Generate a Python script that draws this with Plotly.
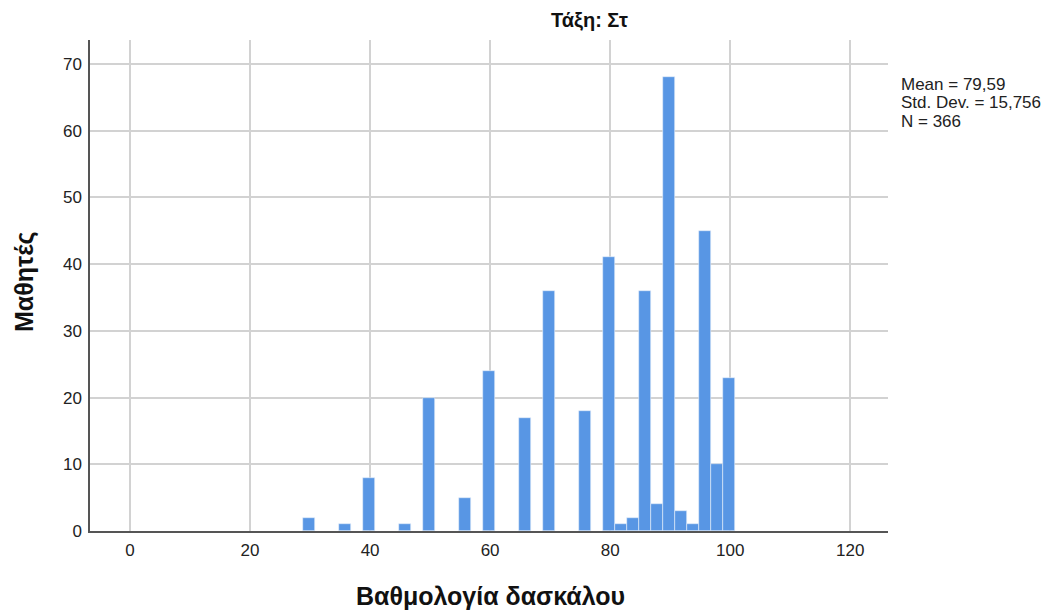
import plotly.graph_objects as go

# bin centres (score) and counts
scores = [30, 36, 40, 46, 50, 56, 60, 66, 70, 76,
          80, 82, 84, 86, 88, 90, 92, 94, 96, 98, 100]
counts = [2, 1, 8, 1, 20, 5, 24, 17, 36, 18,
          41, 1, 2, 36, 4, 68, 3, 1, 45, 10, 23]

x_ticks = [0, 20, 40, 60, 80, 100, 120]
y_ticks = [0, 10, 20, 30, 40, 50, 60, 70]

stats_lines = ["Mean = 79,59", "Std. Dev. = 15,756", "N = 366"]

# the page body adds an 8px offset, so the figure is drawn 8px smaller
W, H = 1045, 604
L, R, T, B = 82, 165, 32, 81
pw, ph = W - L - R, H - T - B


def px_x(x):
    return (x - L) / pw


def px_y(y):
    return (H - B - y) / ph


fig = go.Figure()
fig.add_trace(go.Bar(
    x=[s - 0.15 for s in scores],
    y=counts,
    width=1.95,
    marker=dict(color="#5896e4", line=dict(color="#e8f0fb", width=0.6)),
    showlegend=False,
))

annotations = [
    dict(text="<b>Τάξη: Στ</b>", x=px_x(581), y=px_y(12), xanchor="center", yanchor="middle",
         font=dict(size=20, color="#111111")),
    dict(text="<b>Βαθμολογία δασκάλου</b>", x=px_x(482), y=px_y(588), xanchor="center", yanchor="middle",
         font=dict(size=25, color="#111111")),
    dict(text="<b>Μαθητές</b>", x=px_x(16), y=px_y(274), xanchor="center", yanchor="middle",
         textangle=-90, font=dict(size=25, color="#111111")),
]
for i, line in enumerate(stats_lines):
    annotations.append(dict(
        text=line, x=px_x(891), y=px_y(76 + 18.7 * i), xanchor="left", yanchor="middle",
        font=dict(size=17, color="#222222"),
    ))
for a in annotations:
    a.update(xref="paper", yref="paper", showarrow=False)

fig.update_layout(
    width=W,
    height=H,
    margin=dict(l=L, r=R, t=T, b=B),
    plot_bgcolor="white",
    paper_bgcolor="white",
    font=dict(family="Liberation Sans, Arial", size=17, color="#222222"),
    bargap=0,
    xaxis=dict(
        range=[-6.67, 126.3],
        tickvals=x_ticks,
        showgrid=True, gridcolor="#d2d2d2", gridwidth=1.6,
        showline=True, linecolor="#555555", linewidth=1.5,
        zeroline=False,
        ticks="", ticklen=0, ticklabelstandoff=3,
    ),
    yaxis=dict(
        range=[0, 73.6],
        tickvals=y_ticks,
        showgrid=True, gridcolor="#d2d2d2", gridwidth=1.6,
        showline=True, linecolor="#555555", linewidth=1.5,
        zeroline=False,
        ticks="", ticklen=0, ticklabelstandoff=3,
    ),
    annotations=annotations,
)

fig.write_html("out.html")
